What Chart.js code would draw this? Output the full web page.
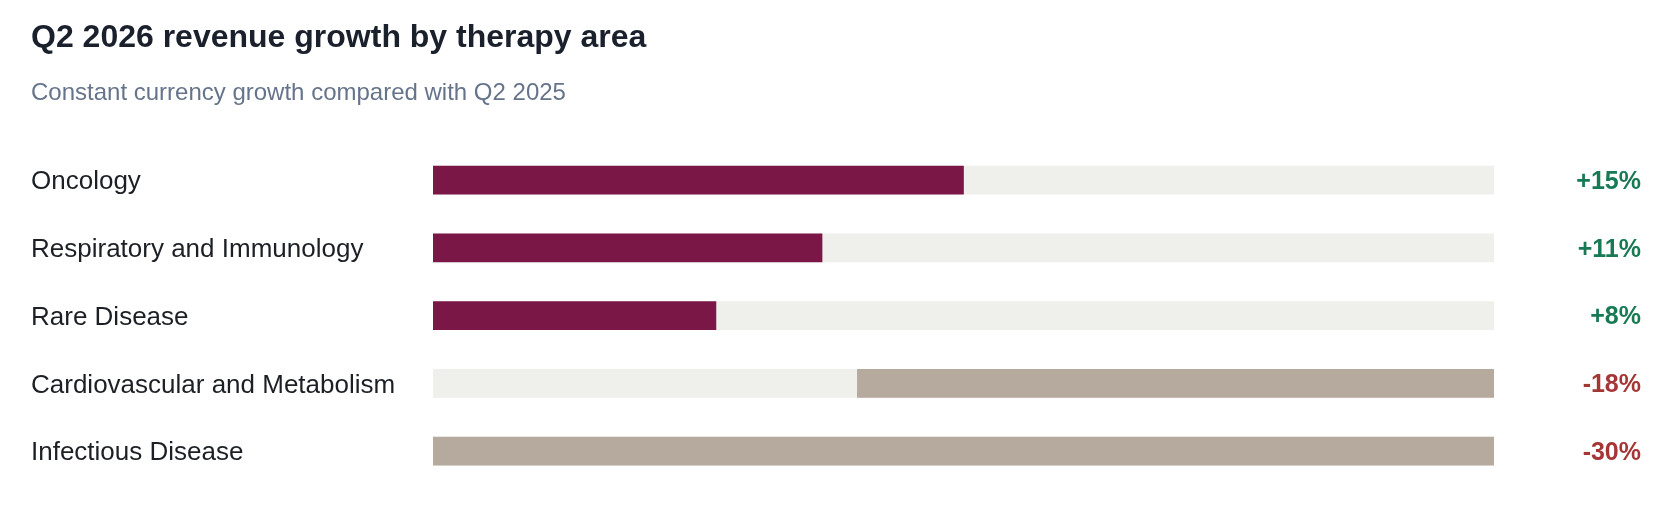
<!DOCTYPE html>
<html>
<head>
<meta charset="utf-8">
<script src="https://cdn.jsdelivr.net/npm/chart.js@4.4.1/dist/chart.umd.min.js"></script>
<style>
  html, body { margin: 0; padding: 0; background: #ffffff; }
  #wrap { width: 1674px; height: 510px; position: relative; }
</style>
</head>
<body>
<div id="wrap"><canvas id="c"></canvas></div>
<script>
const categories = ["Oncology", "Respiratory and Immunology", "Rare Disease", "Cardiovascular and Metabolism", "Infectious Disease"];
const growth = [15, 11, 8, -18, -30];
const valueLabels = ["+15%", "+11%", "+8%", "-18%", "-30%"];
const scaleMax = 30;

const FONT = "'Liberation Sans', Arial, Helvetica, sans-serif";
const POS = '#7b1746', NEG = '#b6a99d', TRACK = '#efefeb';
const GREEN = '#177a55', RED = '#a53636';

const trackData = categories.map(() => [0, scaleMax]);
const barData = growth.map(v => v >= 0 ? [0, v] : [scaleMax + v, scaleMax]);

new Chart(document.getElementById('c'), {
  type: 'bar',
  data: {
    labels: categories,
    datasets: [
      {
        label: 'Growth',
        data: barData,
        backgroundColor: growth.map(v => v >= 0 ? POS : NEG),
        borderWidth: 0,
        borderSkipped: false,
        barThickness: 28,
        grouped: false,
        order: 0
      },
      {
        label: 'Track',
        data: trackData,
        backgroundColor: TRACK,
        borderWidth: 0,
        borderSkipped: false,
        barThickness: 28,
        grouped: false,
        order: 1
      }
    ]
  },
  options: {
    indexAxis: 'y',
    responsive: true,
    maintainAspectRatio: false,
    animation: false,
    layout: { padding: { left: 31, right: 33, top: 0, bottom: 25 } },
    plugins: {
      legend: { display: false },
      tooltip: { enabled: false },
      title: {
        display: true,
        text: 'Q2 2026 revenue growth by therapy area',
        align: 'start',
        color: '#1a202c',
        font: { family: FONT, size: 32, weight: 'bold' },
        padding: { top: 19, bottom: 11 }
      },
      subtitle: {
        display: true,
        text: 'Constant currency growth compared with Q2 2025',
        align: 'start',
        color: '#66748b',
        font: { family: FONT, size: 24, weight: 'normal' },
        padding: { top: 11, bottom: 38 }
      }
    },
    scales: {
      x: {
        display: false,
        min: 0,
        max: scaleMax
      },
      y: {
        position: 'left',
        grid: { display: false },
        border: { display: false },
        ticks: {
          crossAlign: 'far',
          color: '#1c1f24',
          font: { family: FONT, size: 26 },
          padding: 0,
          labelOffset: 2
        },
        afterFit: (s) => { s.width = 402; }
      },
      y2: {
        type: 'category',
        position: 'right',
        labels: valueLabels,
        offset: true,
        grid: { display: false },
        border: { display: false },
        ticks: {
          crossAlign: 'far',
          color: (ctx) => growth[ctx.index] >= 0 ? GREEN : RED,
          font: { family: FONT, size: 25, weight: 'bold' },
          padding: 0,
          labelOffset: 2
        },
        afterFit: (s) => { s.width = 147; }
      }
    }
  }
});
</script>
</body>
</html>
